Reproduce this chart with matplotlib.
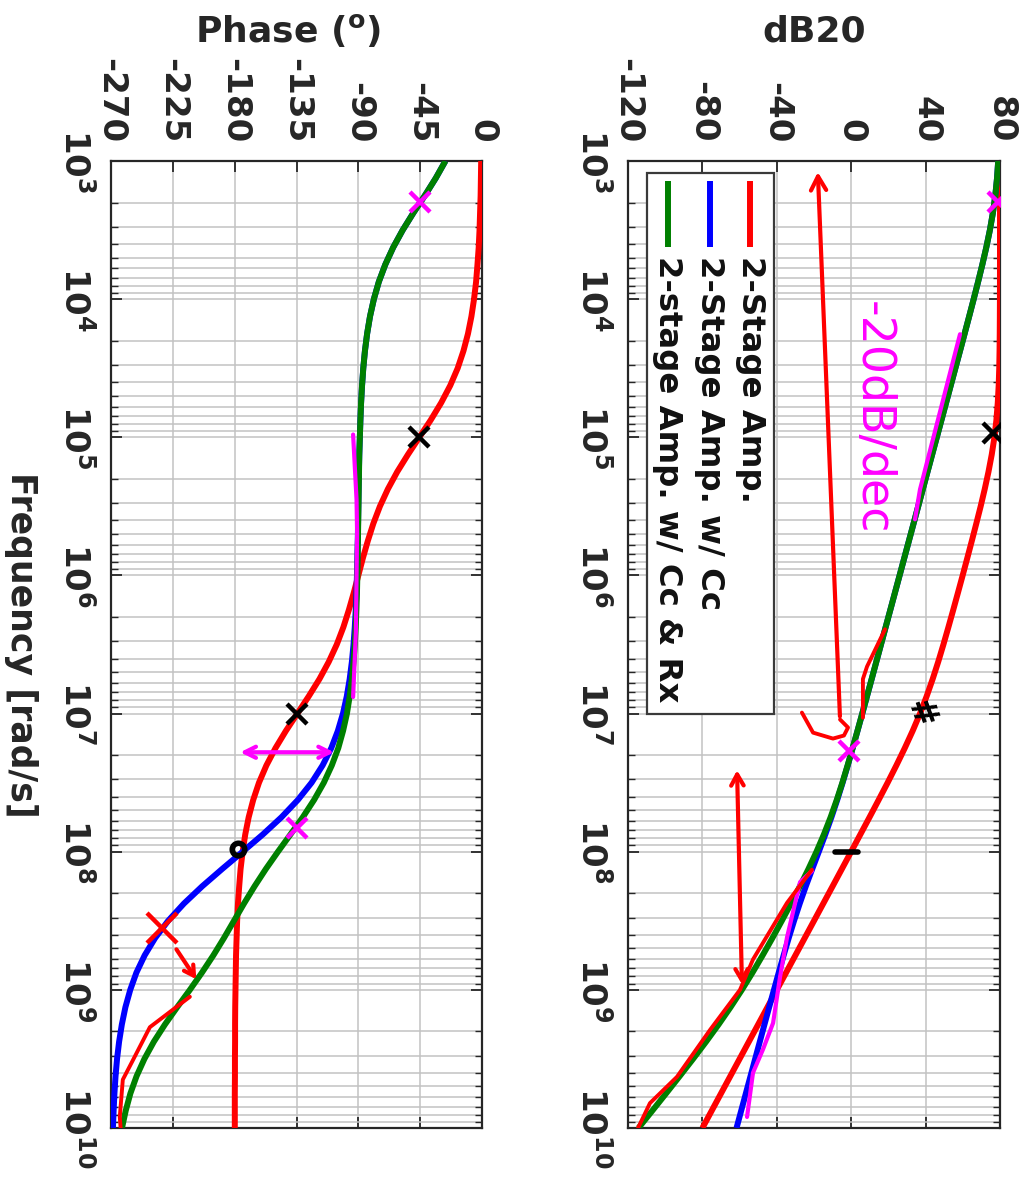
import numpy as np
import matplotlib
matplotlib.use('Agg')
import matplotlib.pyplot as plt
from matplotlib.ticker import FixedLocator, LogLocator, NullFormatter
from matplotlib.patches import Rectangle

plt.rcParams['font.family'] = ['DejaVu Sans']
plt.rcParams['font.weight'] = 'bold'
plt.rcParams['mathtext.fontset'] = 'dejavusans'
plt.rcParams['axes.unicode_minus'] = False

# ---------------- data ----------------
log_freq = [3.0, 3.125, 3.25, 3.375, 3.5, 3.625, 3.75, 3.875,
            4.0, 4.125, 4.25, 4.375, 4.5, 4.625, 4.75, 4.875,
            5.0, 5.125, 5.25, 5.375, 5.5, 5.625, 5.75, 5.875,
            6.0, 6.125, 6.25, 6.375, 6.5, 6.625, 6.75, 6.875,
            7.0, 7.125, 7.25, 7.375, 7.5, 7.625, 7.75, 7.875,
            8.0, 8.125, 8.25, 8.375, 8.5, 8.625, 8.75, 8.875,
            9.0, 9.125, 9.25, 9.375, 9.5, 9.625, 9.75, 9.875, 10.0]

mag_amp = [80.0, 80.0, 80.0, 80.0, 80.0, 79.99, 79.99, 79.98,
           79.96, 79.92, 79.86, 79.76, 79.59, 79.29, 78.8, 78.06,
           77.0, 75.56, 73.8, 71.79, 69.6, 67.25, 64.85, 62.40,
           59.92, 57.40, 54.85, 52.25, 49.58, 46.79, 43.8, 40.56,
           37.0, 33.06, 28.8, 24.29, 19.6, 14.76, 9.87, 4.92,
           -0.04, -5.02, -10.0, -15.01, -20.0, -25.0, -30.0, -35.0,
           -40.0, -45.0, -50.0, -55.0, -60.0, -65.0, -70.0, -75.0, -80.0]
mag_cc = [79.03, 78.40, 77.47, 76.19, 74.56, 72.64, 70.50, 68.22,
          65.85, 63.42, 60.97, 58.49, 56.00, 53.51, 51.02, 48.52,
          46.02, 43.52, 41.02, 38.52, 36.02, 33.52, 31.02, 28.52,
          26.02, 23.52, 21.02, 18.51, 16.01, 13.51, 11.02, 8.48,
          5.95, 3.40, 0.81, -1.85, -4.61, -7.51, -10.62, -13.93,
          -17.41, -20.94, -24.40, -27.66, -30.72, -33.59, -36.32, -38.96,
          -41.54, -44.09, -46.62, -49.13, -51.64, -54.14, -56.65, -59.15, -61.65]
mag_ccrx = [79.03, 78.40, 77.47, 76.19, 74.56, 72.64, 70.50, 68.22,
            65.85, 63.42, 60.97, 58.49, 56.00, 53.51, 51.02, 48.52,
            46.02, 43.52, 41.02, 38.52, 36.02, 33.52, 31.02, 28.52,
            26.02, 23.52, 21.02, 18.51, 16.01, 13.50, 10.99, 8.47,
            5.94, 3.37, 0.76, -1.93, -4.75, -7.77, -11.06, -14.69,
            -18.67, -22.99, -27.58, -32.35, -37.30, -42.37, -47.62, -53.06,
            -58.78, -64.84, -71.26, -78.00, -85.02, -92.22, -99.54, -106.94, -114.38]

ph_amp = [-0.6, -0.8, -1.0, -1.4, -1.8, -2.4, -3.3, -4.3,
          -5.8, -7.7, -10.2, -13.5, -17.7, -23.1, -29.7, -37.3,
          -45.6, -53.9, -61.7, -68.5, -74.3, -79.1, -83.1, -86.7,
          -90.0, -93.3, -96.9, -100.9, -105.7, -111.5, -118.3, -126.1,
          -134.4, -142.7, -150.3, -156.9, -162.3, -166.5, -169.8, -172.3,
          -174.2, -175.7, -176.7, -177.6, -178.2, -178.6, -179.0, -179.2,
          -179.4, -179.6, -179.7, -179.7, -179.8, -179.8, -179.9, -179.9, -179.9]
ph_cc = [-26.6, -33.7, -41.6, -49.9, -57.7, -64.6, -70.4, -75.1,
         -78.7, -81.5, -83.6, -85.2, -86.4, -87.3, -88.0, -88.5,
         -88.9, -89.3, -89.6, -89.8, -90.0, -90.2, -90.4, -90.7,
         -91.0, -91.4, -91.9, -92.6, -93.5, -94.7, -96.3, -98.4,
         -101.2, -104.9, -109.7, -116.0, -124.0, -134.0, -145.9, -159.5,
         -174.2, -189.1, -203.6, -216.9, -228.4, -237.9, -245.5, -251.5,
         -256.0, -259.5, -262.1, -264.1, -265.6, -266.7, -267.5, -268.1, -268.6]
ph_ccrx = [-26.6, -33.7, -41.6, -49.9, -57.7, -64.6, -70.4, -75.1,
           -78.7, -81.5, -83.6, -85.2, -86.4, -87.3, -88.0, -88.5,
           -88.9, -89.3, -89.5, -89.7, -89.9, -90.1, -90.3, -90.5,
           -90.7, -91.0, -91.4, -91.9, -92.6, -93.5, -94.7, -96.3,
           -98.3, -101.1, -104.6, -109.3, -115.1, -122.2, -130.4, -139.4,
           -148.5, -157.3, -165.5, -173.2, -180.5, -187.8, -195.5, -203.8,
           -212.6, -221.8, -230.7, -238.8, -245.7, -251.4, -255.9, -259.3, -262.0]

series_names = ['2-Stage Amp.', '2-Stage Amp. w/ Cc', '2-stage Amp. w/ Cc & Rx']

db_ticks = [-120, -80, -40, 0, 40, 80]
db_ticklabels = ['-120', '-80', '-40', '0', '40', '80']
ph_ticks = [-270, -225, -180, -135, -90, -45, 0]
ph_ticklabels = ['-270', '-225', '-180', '-135', '-90', '-45', '0']
freq_exps = [3, 4, 5, 6, 7, 8, 9, 10]

# hand-drawn annotations (value, log10 frequency)
pink_x_db = [(79.0, 3.30), (-1.0, 7.27)]
pink_x_ph = [(-45.0, 3.30), (-134.7, 7.83)]
black_x_db = [(76.0, 4.97)]
black_x_ph = [(-45.6, 5.0), (-134.4, 7.0)]
pink_trace_db_green = [(58.5, 4.254), (37.0, 5.377), (34.3, 5.594)]
pink_trace_db_blue = [(-21.1, 8.14), (-27.5, 8.22), (-34.5, 8.62), (-38.3, 8.91),
                      (-42.0, 9.24), (-47.4, 9.43), (-52.8, 9.60), (-56.0, 9.92)]
red_trace_db_green = [(-21.1, 8.13), (-34.5, 8.37), (-52.8, 8.78), (-59.8, 9.0),
                      (-75.9, 9.29), (-93.7, 9.63), (-108.2, 9.82), (-114.6, 10.0)]
red_trace_db_mid = [(18.2, 6.39), (8.5, 6.66), (6.3, 6.75), (6.3, 7.03)]
red_hook_db = [(-6.0, 7.043), (-1.7, 7.101), (-3.9, 7.159), (-9.8, 7.181),
               (-20.5, 7.138), (-26.5, 6.993)]
pink_trace_ph = [(-93.8, 4.98), (-91.3, 5.45), (-90.9, 5.69), (-91.8, 6.41), (-93.8, 6.88)]
red_trace_ph = [(-212.6, 9.05), (-241.7, 9.27), (-254.1, 9.51), (-261.4, 9.65),
                (-263.6, 9.92), (-263.0, 10.0)]

# ---------------- figure ----------------
W, H = 1023, 1177
fig = plt.figure(figsize=(W / 100, H / 100), dpi=100)


def px_rect(x0, x1, y0, y1):
    return [x0 / W, 1 - y1 / H, (x1 - x0) / W, (y1 - y0) / H]


ax_ph = fig.add_axes(px_rect(111, 482, 161, 1128))
ax_db = fig.add_axes(px_rect(628, 1000, 161, 1128))

freq = 10.0 ** np.array(log_freq)
C_RED, C_BLUE, C_GREEN = '#ff0000', '#0000ff', '#008000'
LW = 4.3
TXT = '#262626'
GRID = '#c2c2c2'


def style(ax, xlim, xticks, xlabels):
    ax.set_yscale('log')
    ax.set_xlim(*xlim)
    ax.set_ylim(1e10, 1e3)
    ax.set_xticks(xticks)
    ax.set_xticklabels(xlabels, rotation=-90, fontsize=24.5, fontweight='bold',
                       va='bottom', ha='center', color=TXT)
    ax.yaxis.set_major_locator(FixedLocator([10.0 ** e for e in freq_exps]))
    ax.yaxis.set_minor_locator(LogLocator(base=10, subs=np.arange(2, 10), numticks=100))
    ax.yaxis.set_minor_formatter(NullFormatter())
    ax.set_yticklabels([r'$\mathbf{10^{%d}}$' % e for e in freq_exps], rotation=-90,
                       fontsize=24.5, va='center', ha='right', color=TXT)
    ax.tick_params(axis='x', which='major', direction='in', top=True, bottom=True,
                   labeltop=True, labelbottom=False, length=8, width=1.3, pad=13,
                   colors=TXT)
    ax.tick_params(axis='y', which='major', direction='in', left=True, right=True,
                   length=8, width=1.3, pad=13, colors=TXT)
    ax.tick_params(axis='y', which='minor', direction='in', left=True, right=True,
                   length=5, width=1.0, colors=TXT)
    ax.grid(True, which='major', color=GRID, lw=1.1)
    ax.grid(True, which='minor', axis='y', color=GRID, lw=1.1)
    ax.set_axisbelow(True)
    for sp in ax.spines.values():
        sp.set_color(TXT)
        sp.set_linewidth(1.6)


style(ax_db, (-120, 80), db_ticks, db_ticklabels)
style(ax_ph, (-270, 0), ph_ticks, ph_ticklabels)

# curves
for ax, series in [(ax_db, [mag_amp, mag_cc, mag_ccrx]), (ax_ph, [ph_amp, ph_cc, ph_ccrx])]:
    for vals, col in zip(series, [C_RED, C_BLUE, C_GREEN]):
        ax.plot(vals, freq, color=col, lw=LW, solid_capstyle='butt',
                solid_joinstyle='round', zorder=3)

# legend (rotated, drawn by hand)
ax_db.add_patch(Rectangle((0.051, 0.4286), 0.3415, 0.559, transform=ax_db.transAxes,
                          facecolor='white', edgecolor='#3a3a3a', lw=1.6, zorder=5))
for xc, col, name in zip([0.328, 0.2204, 0.1075], [C_RED, C_BLUE, C_GREEN], series_names):
    ax_db.plot([xc, xc], [0.9793, 0.911], transform=ax_db.transAxes, color=col,
               lw=LW, solid_capstyle='butt', zorder=6)
    ax_db.text(xc, 0.9017, name, transform=ax_db.transAxes, rotation=-90,
               ha='center', va='top', fontsize=23.3, fontweight='bold', color='#111111',
               zorder=6)

# titles / labels (rotated figure)
fig.text(814 / W, 1 - 42 / H, 'dB20', ha='center', va='baseline', fontsize=26,
         fontweight='bold', color=TXT)
fig.text(288 / W, 1 - 42 / H, r'Phase ($^{\mathbf{o}}$)', ha='center', va='baseline',
         fontsize=26, fontweight='bold', color=TXT)
fig.text(21 / W, 1 - 645 / H, 'Frequency [rad/s]', rotation=-90, ha='center',
         va='center', fontsize=25, fontweight='bold', color=TXT)

# ---------------- hand-drawn annotations ----------------
PINK, HRED = '#ff00ff', '#ff0000'


def pts(lst):
    v = [p[0] for p in lst]
    f = [10.0 ** p[1] for p in lst]
    return v, f


def marks(ax, lst, col, ms=15, mew=3.2):
    v, f = pts(lst)
    ax.plot(v, f, ls='none', marker='x', ms=ms, mew=mew, color=col, zorder=7)


marks(ax_db, pink_x_db, PINK)
marks(ax_ph, pink_x_ph, PINK)
marks(ax_db, black_x_db, 'black')
marks(ax_ph, black_x_ph, 'black')
marks(ax_ph, [(-233.0, 8.55)], HRED, ms=22, mew=3.2)

for ax, lst, col, lw in [(ax_db, pink_trace_db_green, PINK, 3.0),
                         (ax_db, pink_trace_db_blue, PINK, 3.0),
                         (ax_db, red_trace_db_green, HRED, 2.8),
                         (ax_db, red_trace_db_mid, HRED, 2.8),
                         (ax_db, red_hook_db, HRED, 2.8),
                         (ax_ph, pink_trace_ph, PINK, 3.0),
                         (ax_ph, red_trace_ph, HRED, 2.8)]:
    v, f = pts(lst)
    ax.plot(v, f, color=col, lw=lw, solid_capstyle='round', solid_joinstyle='round',
            zorder=7)

# black dash at 0 dB crossing, black "#" at 1e7, black blob at -180
ax_db.plot([-8.7, 3.7], [1e8, 1e8], color='black', lw=4, solid_capstyle='round', zorder=7)
ax_db.text(37, 10 ** 7.0, '#', rotation=-70, ha='center', va='center', fontsize=24,
           fontweight='bold', color='black', zorder=7)
ax_ph.plot([-177.7], [10 ** 7.98], marker='o', ms=9, mew=4, mfc='none', color='black',
           zorder=7)

# arrows
ax_db.annotate('', xy=(-18, 10 ** 3.06), xytext=(-6, 10 ** 7.04),
               arrowprops=dict(arrowstyle='->,head_length=1.0,head_width=0.55',
                               color=HRED, lw=3), zorder=7)
ax_db.annotate('', xy=(-61.4, 10 ** 7.39), xytext=(-58.7, 10 ** 8.98),
               arrowprops=dict(arrowstyle='<->,head_length=0.8,head_width=0.45',
                               color=HRED, lw=3), zorder=7)
ax_ph.annotate('', xy=(-178, 10 ** 7.28), xytext=(-105.6, 10 ** 7.28),
               arrowprops=dict(arrowstyle='<->,head_length=0.8,head_width=0.4',
                               color=PINK, lw=3), zorder=7)
ax_ph.annotate('', xy=(-206.8, 10 ** 8.94), xytext=(-223.5, 10 ** 8.69),
               arrowprops=dict(arrowstyle='->,head_length=0.7,head_width=0.4',
                               color=HRED, lw=3), zorder=7)

ax_db.text(11.2, 10 ** 4.86, '-20dB/dec', rotation=-90, ha='center', va='center',
           fontsize=33, fontweight='normal', color=PINK, zorder=7)

fig.savefig('out.png', dpi=100)
